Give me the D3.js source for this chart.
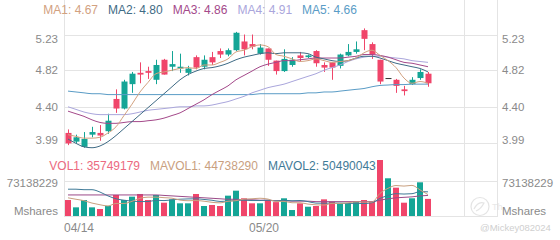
<!DOCTYPE html>
<html>
<head>
<meta charset="utf-8">
<script src="https://cdn.jsdelivr.net/npm/d3@7/dist/d3.min.js"></script>
<style>
  html, body { margin: 0; padding: 0; background: #fff; }
  svg { display: block; font-family: "Liberation Sans", Arial, sans-serif; }
</style>
</head>
<body>
<svg id="chart" width="560" height="240"></svg>
<script>
'use strict'
// trading days shown on the chart
const dates = ['04/14','04/15','04/16','04/17','04/21','04/22','04/23','04/24','04/25','04/28',
  '04/29','04/30','05/01','05/02','05/05','05/06','05/07','05/08','05/09','05/12',
  '05/13','05/14','05/15','05/16','05/19','05/20','05/21','05/22','05/23','05/27',
  '05/28','05/29','05/30','06/02','06/03','06/04','06/05','06/06','06/09','06/10',
  '06/11','06/12','06/13','06/16','06/17','06/18']
const dateLabels = ['04/14', '05/20']

const opens = [4.10,4.00,3.94,4.08,4.10,4.12,4.49,4.38,4.66,4.79,4.81,4.71,4.94,4.86,4.84,4.79,4.97,4.86,4.97,5.04,
  5.00,5.05,5.15,5.12,5.01,5.07,4.93,4.81,4.88,4.99,4.97,5.04,4.88,4.91,4.87,4.99,5.03,5.28,5.12,4.94,
  4.73,4.71,4.60,4.66,4.73,4.78]
const highs = [4.14,4.08,4.11,4.17,4.19,4.32,4.60,4.71,4.80,4.91,4.86,4.94,4.95,5.04,5.01,4.87,4.99,4.99,5.03,5.07,
  5.07,5.26,5.23,5.23,5.12,5.07,4.93,5.06,4.97,5.03,5.00,5.05,4.91,4.91,5.01,5.12,5.15,5.30,5.14,4.94,
  4.73,4.72,4.64,4.74,4.83,4.80]
const lows = [3.96,3.98,3.93,4.05,4.01,4.09,4.33,4.37,4.56,4.67,4.72,4.66,4.77,4.81,4.79,4.76,4.83,4.83,4.88,4.96,
  4.98,5.04,4.99,5.06,5.00,4.87,4.77,4.80,4.86,4.92,4.96,4.86,4.80,4.71,4.84,4.98,5.01,5.05,4.95,4.66,
  4.73,4.56,4.53,4.65,4.71,4.63]
const closes = [3.98,4.05,4.03,4.11,4.07,4.24,4.38,4.69,4.78,4.77,4.79,4.88,4.77,4.89,4.86,4.84,4.85,4.94,4.91,5.00,
  5.05,5.25,5.06,5.09,5.08,4.94,4.81,4.95,4.94,4.96,4.99,4.90,4.85,4.85,5.00,5.03,5.06,5.18,5.00,4.69,
  4.73,4.64,4.58,4.71,4.80,4.67]
// volume in millions of shares
const volumes = [33.4,18.1,33.4,18.1,14.6,20.9,43.9,33.4,40.4,46.0,33.4,43.9,27.8,34.8,26.5,26.5,46.0,20.9,23.0,20.9,
  42.5,52.9,37.0,26.5,26.5,33.4,29.0,37.0,12.5,26.5,19.4,20.9,34.8,29.9,26.5,26.5,29.9,33.4,29.9,117.0,
  78.8,59.2,27.8,37.0,70.4,35.749179]

const ma1 = [4.08,4.06,4.04,4.04,4.05,4.10,4.17,4.30,4.43,4.57,4.68,4.78,4.80,4.82,4.84,4.85,4.84,4.88,4.88,4.91,
  4.95,5.03,5.05,5.09,5.11,5.09,5.00,4.98,4.95,4.92,4.93,4.95,4.93,4.91,4.92,4.93,4.96,5.02,5.05,4.99,
  4.93,4.85,4.73,4.67,4.69,4.67]
const ma2 = [4.03,3.98,3.94,3.93,3.95,4.00,4.07,4.15,4.23,4.31,4.39,4.47,4.55,4.63,4.71,4.77,4.81,4.84,4.85,4.87,
  4.90,4.94,4.97,4.99,5.01,5.02,5.01,5.02,5.02,5.02,5.01,4.97,4.95,4.93,4.92,4.93,4.96,4.98,4.98,4.96,
  4.93,4.90,4.88,4.86,4.84,4.80]
const ma3 = [4.35,4.32,4.29,4.25,4.22,4.21,4.21,4.22,4.23,4.23,4.24,4.25,4.27,4.30,4.33,4.38,4.43,4.48,4.54,4.59,
  4.64,4.71,4.76,4.81,4.86,4.89,4.91,4.93,4.93,4.94,4.95,4.96,4.96,4.96,4.96,4.97,4.98,5.00,5.00,4.99,
  4.97,4.94,4.91,4.90,4.88,4.86]
const ma4 = [4.40,4.37,4.34,4.32,4.31,4.31,4.31,4.31,4.32,4.34,4.36,4.37,4.38,4.39,4.40,4.40,4.41,4.41,4.42,4.44,
  4.46,4.49,4.52,4.56,4.59,4.62,4.64,4.66,4.69,4.72,4.75,4.78,4.82,4.85,4.88,4.92,4.95,4.97,4.98,4.98,
  4.97,4.96,4.95,4.93,4.92,4.91]
const ma5 = [4.58,4.57,4.56,4.55,4.55,4.54,4.54,4.54,4.54,4.54,4.54,4.54,4.54,4.54,4.54,4.54,4.54,4.54,4.54,4.54,
  4.54,4.54,4.54,4.54,4.55,4.55,4.55,4.55,4.55,4.55,4.56,4.56,4.57,4.57,4.58,4.59,4.60,4.61,4.63,4.645,
  4.65,4.655,4.655,4.66,4.66,4.66]
const mavol1 = [38,35,32,27,23.5,21.0,26.2,26.2,30.6,36.9,39.4,39.4,38.3,37.2,33.3,31.9,32.3,30.9,28.6,27.5,
  30.7,32.0,35.3,36.0,37.1,35.3,30.5,30.5,27.7,27.7,24.9,23.3,22.8,26.3,26.3,27.7,29.5,29.2,29.2,47.3,
  57.8,63.7,62.5,64.0,54.6,44.74]
const mavol2 = [56,56,55,55,50,42,36,33,31,30.2,30.2,32.8,32.2,33.9,35.1,35.7,35.9,34.6,32.9,30.4,
  31.3,32.2,33.1,32.3,32.3,33.0,31.3,32.9,31.8,32.4,30.1,26.9,26.7,27.0,27.0,26.3,26.4,26.0,27.8,36.8,
  42.8,46.6,45.9,46.6,51.0,50.49]
const mavol3 = [44,44,44,44,44,44,44,44,44,44,44,44,43,42,41,40,39,38,37,36,
  35,35,34,34,33,33,32,32,31,31,31,30,30,30,30,30,30,30,30,33,
  36,38,39,40,42,43]

const priceTicks = [3.99, 4.40, 4.82, 5.23]
const volTicks = [73138229]
const maNames = ['MA1', 'MA2', 'MA3', 'MA4', 'MA5']
const maLast = ['4.67', '4.80', '4.86', '4.91', '4.66']
const volNames = ['VOL1', 'MAVOL1', 'MAVOL2']
const volLast = ['35749179', '44738290', '50490043']

window.onload = function() {
  const svg = d3.select('#chart'),
    left = 64,
    right = 464,
    axisRight = 497,
    upColor = '#14a596',
    downColor = '#f0456a',
    flatColor = '#333',
    gridColor = '#e4e4e4',
    textColor = '#8a8a8a',
    maColors = ['#d2a17f', '#3f6b85', '#a4498a', '#aaa6dc', '#5a9cc6'],
    volColors = ['#ec6a80', '#c9a07f', '#3f7a97'],
    mavol3Color = '#9b4a88'

  const x = d3.scaleLinear()
    .domain([-0.5, 49.5])
    .range([left, right])
  const y = d3.scaleLinear()
    .domain([3.99, 5.23])
    .range([142.5, 34.5])
  const vy = d3.scaleLinear()
    .domain([0, 73138229])
    .range([216, 181])

  const bodyW = 6

  // grid
  const grid = svg.append('g').attr('stroke', gridColor).attr('stroke-width', 1).attr('shape-rendering', 'crispEdges')
  priceTicks.forEach(t => {
    grid.append('line').attr('x1', left).attr('x2', axisRight).attr('y1', Math.round(y(t)) + 0.5).attr('y2', Math.round(y(t)) + 0.5)
  })
  volTicks.forEach(t => {
    grid.append('line').attr('x1', left).attr('x2', axisRight).attr('y1', Math.round(vy(t)) + 0.5).attr('y2', Math.round(vy(t)) + 0.5)
  })
  grid.append('line').attr('x1', left).attr('x2', axisRight).attr('y1', 216.5).attr('y2', 216.5)
  const vlines = dateLabels.map(d => Math.round(x(dates.indexOf(d) - 0.5))).concat([right, axisRight])
  vlines.forEach(v => {
    grid.append('line').attr('x1', v + 0.5).attr('x2', v + 0.5).attr('y1', 0).attr('y2', 217)
  })

  // price axis labels, kept inside the pane
  const labelY = v => Math.max(39, Math.min(140, y(v)))
  const axisText = svg.append('g')
    .attr('fill', textColor)
    .attr('font-size', '11.5px')
  priceTicks.forEach(t => {
    axisText.append('text').attr('x', 58).attr('y', labelY(t)).attr('dy', '0.35em').attr('text-anchor', 'end').text(t.toFixed(2))
    axisText.append('text').attr('x', 502).attr('y', labelY(t)).attr('dy', '0.35em').text(t.toFixed(2))
  })
  volTicks.forEach(t => {
    axisText.append('text').attr('x', 58).attr('y', vy(t) + 2).attr('dy', '0.35em').attr('text-anchor', 'end').text(t)
    axisText.append('text').attr('x', 502).attr('y', vy(t) + 2).attr('dy', '0.35em').text(t)
  })
  axisText.append('text').attr('x', 58).attr('y', 210.5).attr('dy', '0.35em').attr('text-anchor', 'end').text('Mshares')
  axisText.append('text').attr('x', 502).attr('y', 210.5).attr('dy', '0.35em').text('Mshares')
  dateLabels.forEach((d, k) => {
    const px = x(dates.indexOf(d) - 0.5)
    axisText.append('text')
      .attr('x', px)
      .attr('y', 227.5)
      .attr('dy', '0.35em')
      .attr('text-anchor', k === 0 ? 'start' : 'middle')
      .attr('font-size', '12px')
      .text(d)
  })

  // watermark
  const wm = svg.append('g').attr('opacity', 0.55)
  wm.append('circle').attr('cx', 480).attr('cy', 206.5).attr('r', 9).attr('fill', 'none').attr('stroke', '#cfcfcf').attr('stroke-width', 1.2)
  wm.append('path').attr('d', 'M474,209 q4,-8 10,-6 q-3,6 -8,8').attr('fill', 'none').attr('stroke', '#cfcfcf').attr('stroke-width', 1.2)
  wm.append('text').attr('x', 492).attr('y', 210).attr('font-size', '9px').attr('fill', '#d6d6d6').text('Th')
  svg.append('text').attr('x', 480).attr('y', 231).attr('font-size', '9.5px').attr('fill', '#cfcfcf').text('@Mickey082024')

  const idx = d3.range(dates.length)
  const dir = i => closes[i] > opens[i] ? 1 : (closes[i] < opens[i] ? -1 : 0)
  const candleColor = i => dir(i) > 0 ? upColor : (dir(i) < 0 ? downColor : flatColor)

  // volume bars
  svg.append('g')
    .selectAll('rect')
    .data(idx)
    .enter()
    .append('rect')
    .attr('x', i => x(i) - bodyW / 2)
    .attr('y', i => vy(volumes[i] * 1e6))
    .attr('width', bodyW)
    .attr('height', i => vy(0) - vy(volumes[i] * 1e6))
    .attr('fill', i => dir(i) < 0 ? downColor : upColor)

  const volLine = d3.line()
    .x((d, i) => x(i))
    .y(d => vy(d * 1e6))
    .curve(d3.curveMonotoneX)
  const volPaths = [[mavol3, mavol3Color], [mavol2, volColors[2]], [mavol1, volColors[1]]]
  volPaths.forEach(p => {
    svg.append('path')
      .attr('d', volLine(p[0]))
      .attr('fill', 'none')
      .attr('stroke', p[1])
      .attr('stroke-width', 1)
  })

  // candles
  const candles = svg.append('g')
    .selectAll('g')
    .data(idx)
    .enter()
    .append('g')
  candles.append('line')
    .attr('x1', i => Math.round(x(i)) + 0.5)
    .attr('x2', i => Math.round(x(i)) + 0.5)
    .attr('y1', i => y(highs[i]))
    .attr('y2', i => y(lows[i]))
    .attr('stroke', candleColor)
    .attr('stroke-width', 1)
  candles.append('rect')
    .attr('x', i => Math.round(x(i)) + 0.5 - bodyW / 2)
    .attr('y', i => y(Math.max(opens[i], closes[i])))
    .attr('width', bodyW)
    .attr('height', i => Math.max(1, y(Math.min(opens[i], closes[i])) - y(Math.max(opens[i], closes[i]))))
    .attr('fill', candleColor)

  // moving averages
  const maLine = d3.line()
    .x((d, i) => x(i))
    .y(d => y(d))
    .curve(d3.curveMonotoneX)
  const mas = [ma5, ma4, ma3, ma2, ma1]
  mas.forEach((m, k) => {
    svg.append('path')
      .attr('d', maLine(m))
      .attr('fill', 'none')
      .attr('stroke', maColors[4 - k])
      .attr('stroke-width', 1)
  })

  // legends
  const legend = function(names, vals, colors, lx, ly) {
    let cx = lx
    names.forEach((n, i) => {
      const t = svg.append('text')
        .attr('x', cx)
        .attr('y', ly)
        .attr('font-size', '12px')
        .attr('fill', colors[i])
        .text(n + ': ' + vals[i])
      cx += t.node().getComputedTextLength() + 10
    })
  }
  legend(maNames, maLast, maColors, 43.3, 13.8)
  legend(volNames, volLast, volColors, 49.3, 170.3)
}
</script>
</body>
</html>
